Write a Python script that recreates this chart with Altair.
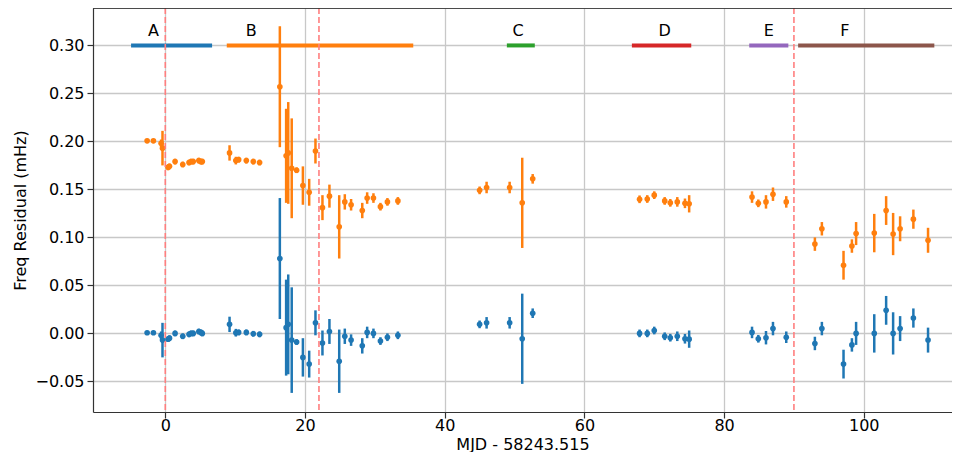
import altair as alt
import pandas as pd

# ---- data ----
mjd = [-2.6, -1.7, -0.6, -0.4, 0.4, 0.6, 1.4, 2.5, 3.4, 3.7, 4.0, 4.8, 5.1, 5.3,
       9.2, 10.1, 10.5, 11.6, 12.6, 13.5,
       16.4, 17.3, 17.6, 18.1, 18.8, 19.7, 20.6, 21.5, 22.5, 23.5, 24.9, 25.7, 26.6,
       28.2, 28.9, 29.8, 30.8, 31.8, 33.3,
       45.0, 46.0, 49.3, 51.1, 52.6,
       67.9, 69.0, 70.0, 71.5, 72.3, 73.3, 74.4, 75.0,
       84.0, 84.9, 86.0, 87.0, 88.9,
       93.0, 94.0, 97.1, 98.3, 98.9, 101.5, 103.2, 104.2, 105.2, 107.1, 109.2]

resid_orange = [0.2006, 0.2006, 0.198, 0.193, 0.173, 0.174, 0.179, 0.176, 0.178, 0.179, 0.179, 0.180, 0.179, 0.179,
                0.188, 0.180, 0.181, 0.180, 0.179, 0.178,
                0.257, 0.185, 0.188, 0.172, 0.170, 0.154, 0.147, 0.190, 0.131, 0.143, 0.111, 0.137, 0.134,
                0.128, 0.141, 0.141, 0.132, 0.137, 0.138,
                0.149, 0.152, 0.152, 0.136, 0.161,
                0.1397, 0.140, 0.144, 0.138, 0.136, 0.137, 0.1355, 0.135,
                0.142, 0.1355, 0.137, 0.145, 0.137,
                0.093, 0.109, 0.071, 0.091, 0.104, 0.1045, 0.128, 0.1035, 0.109, 0.119, 0.097]
err_orange = [0.002, 0.002, 0.004, 0.018, 0.003, 0.003, 0.003, 0.003, 0.003, 0.003, 0.003, 0.003, 0.003, 0.003,
              0.008, 0.004, 0.003, 0.003, 0.003, 0.003,
              0.063, 0.049, 0.053, 0.052, 0.003, 0.020, 0.014, 0.013, 0.013, 0.012, 0.033, 0.008, 0.006,
              0.008, 0.006, 0.005, 0.004, 0.004, 0.004,
              0.004, 0.006, 0.006, 0.047, 0.005,
              0.004, 0.004, 0.004, 0.004, 0.004, 0.005, 0.005, 0.009,
              0.006, 0.004, 0.007, 0.007, 0.006,
              0.007, 0.007, 0.015, 0.007, 0.012, 0.020, 0.015, 0.022, 0.013, 0.010, 0.013]

resid_blue = [0.0007, 0.0007, -0.002, -0.007, -0.006, -0.005, 0.0, -0.003, -0.001, 0.0, 0.0, 0.002, 0.001, 0.0,
              0.0094, 0.0007, 0.001, 0.001, -0.0004, -0.001,
              0.078, 0.006, 0.0094, -0.007, -0.009, -0.025, -0.032, 0.011, -0.010, 0.002, -0.029, -0.003, -0.007,
              -0.013, 0.001, 0.0, -0.008, -0.004, -0.002,
              0.0094, 0.011, 0.011, -0.0056, 0.021,
              0.0, 0.0, 0.003, -0.003, -0.0045, -0.003, -0.0056, -0.006,
              0.001, -0.0056, -0.0045, 0.005, -0.004,
              -0.0105, 0.005, -0.032, -0.012, 0.0, 0.0, 0.024, 0.0, 0.005, 0.016, -0.007]
err_blue = [0.002, 0.002, 0.004, 0.018, 0.003, 0.003, 0.003, 0.003, 0.003, 0.003, 0.003, 0.003, 0.003, 0.003,
            0.008, 0.004, 0.003, 0.003, 0.003, 0.003,
            0.063, 0.050, 0.052, 0.055, 0.003, 0.020, 0.014, 0.013, 0.013, 0.013, 0.033, 0.008, 0.006,
            0.008, 0.006, 0.005, 0.004, 0.004, 0.004,
            0.004, 0.006, 0.006, 0.047, 0.005,
            0.004, 0.004, 0.004, 0.004, 0.004, 0.005, 0.005, 0.009,
            0.006, 0.004, 0.007, 0.007, 0.006,
            0.007, 0.007, 0.015, 0.007, 0.012, 0.020, 0.015, 0.022, 0.013, 0.010, 0.013]

seg_names = ["A", "B", "C", "D", "E", "F"]
seg_start = [-4.9, 8.8, 48.9, 66.8, 83.6, 90.6]
seg_end = [6.7, 35.5, 52.9, 75.3, 89.2, 110.1]
seg_label_x = [-1.7, 12.3, 50.5, 71.5, 86.4, 97.3]
seg_colors = ["#1f77b4", "#ff7f0e", "#2ca02c", "#d62728", "#9467bd", "#8c564b"]
seg_level = [0.30] * 6
label_level = [0.315] * 6

glitch_x = [0, 22, 90]

x_ticks = [0, 20, 40, 60, 80, 100]
y_ticks = [-0.05, 0.0, 0.05, 0.10, 0.15, 0.20, 0.25, 0.30]

# ---- tables ----
blue_df = pd.DataFrame({"x": mjd, "y": resid_blue,
                        "lo": [v - e for v, e in zip(resid_blue, err_blue)],
                        "hi": [v + e for v, e in zip(resid_blue, err_blue)]})
orange_df = pd.DataFrame({"x": mjd, "y": resid_orange,
                          "lo": [v - e for v, e in zip(resid_orange, err_orange)],
                          "hi": [v + e for v, e in zip(resid_orange, err_orange)]})
seg_df = pd.DataFrame({"name": seg_names, "x0": seg_start, "x1": seg_end,
                       "lx": seg_label_x, "y": seg_level, "ly": label_level})
glitch_df = pd.DataFrame({"x": glitch_x})

W, H = 859, 404
x_scale = alt.Scale(domain=[-10.35, 112.63], nice=False, zero=False)
y_scale = alt.Scale(domain=[-0.0819, 0.339], nice=False, zero=False)
x_axis = alt.Axis(values=x_ticks, title="MJD - 58243.515", format="d",
                  titlePadding=3, labelPadding=-1)
y_axis = alt.Axis(values=y_ticks, title="Freq Residual (mHz)", format=".2f",
                  titlePadding=6, labelPadding=3)


def X(f):
    return alt.X(f, type="quantitative", scale=x_scale, axis=x_axis)


def Y(f):
    return alt.Y(f, type="quantitative", scale=y_scale, axis=y_axis)


def series(df, color):
    bars = alt.Chart(df).mark_rule(color=color, strokeWidth=2.5).encode(
        x=X("x"), y=Y("lo"), y2="hi")
    pts = alt.Chart(df).mark_circle(color=color, size=32, opacity=1).encode(
        x=X("x"), y=Y("y"))
    return bars + pts


seg_color = alt.Color("name:N", scale=alt.Scale(domain=seg_names, range=seg_colors), legend=None)
segs = alt.Chart(seg_df).mark_rule(strokeWidth=4, strokeCap="butt").encode(
    x=X("x0"), x2="x1", y=Y("y"), color=seg_color)
labels = alt.Chart(seg_df).mark_text(fontSize=16, font="DejaVu Sans", color="black",
                                     baseline="middle", align="center").encode(
    x=X("lx"), y=Y("ly"), text="name:N")
glitches = alt.Chart(glitch_df).mark_rule(color="#ff7f7f", strokeWidth=1.6,
                                          strokeDash=[6, 3]).encode(x=X("x"))
top_spine = alt.Chart(glitch_df).mark_rule(color="#333333", strokeWidth=1.2).encode(
    x=alt.value(0), x2=alt.value(W), y=alt.value(0))

chart = alt.layer(
    series(blue_df, "#1f77b4"),
    series(orange_df, "#ff7f0e"),
    segs, glitches, labels, top_spine
).properties(
    width=W, height=H,
    autosize="none",
    padding={"left": 85, "right": 0, "top": 0, "bottom": 40}
).configure_view(stroke=None).configure_axis(
    labelFont="DejaVu Sans", titleFont="DejaVu Sans",
    labelFontSize=16, titleFontSize=16, titleFontWeight="normal",
    labelColor="black", titleColor="black",
    domainColor="#333333", domainWidth=1.2,
    tickColor="#333333", tickSize=6, tickWidth=1.2,
    gridColor="#c8c8c8", gridWidth=1.3, grid=True
)

chart.save("out.html", embed_options={"renderer": "svg", "actions": False})
